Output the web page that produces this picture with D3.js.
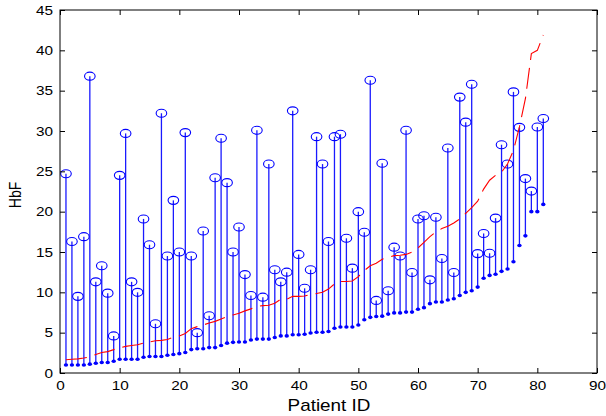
<!DOCTYPE html>
<html>
<head>
<meta charset="utf-8">
<script src="https://cdn.jsdelivr.net/npm/d3@7"></script>
<style>
body { margin:0; background:#fff; }
svg { display:block; font-family:"Liberation Sans", Arial, sans-serif; }
</style>
</head>
<body>
<script>
// HbF per patient: lower value (dot), upper value (circle), and the red dashed curve
var hbfLow = [1.0,1.0,1.0,1.0,1.1,1.2,1.3,1.3,1.45,1.7,
	1.7,1.7,1.7,1.95,2.05,2.05,2.05,2.2,2.3,2.4,
	2.55,2.9,3.0,3.0,3.15,3.15,3.4,3.7,3.8,3.85,
	3.85,4.1,4.2,4.2,4.2,4.4,4.6,4.6,4.75,4.75,
	4.8,4.95,5.05,5.05,5.15,5.55,5.7,5.7,5.7,5.95,
	6.6,6.9,7.0,7.05,7.3,7.45,7.45,7.55,7.55,7.9,
	8.1,8.6,8.8,8.8,9.05,9.2,9.6,10.0,10.2,10.65,
	11.75,12.1,12.25,12.6,12.9,13.8,15.8,17.0,20.0,20.0,
	20.9];
var hbfHigh = [24.7,16.3,9.5,16.9,36.8,11.3,13.3,9.9,4.6,24.5,
	29.7,11.3,10.0,19.1,15.9,6.1,32.2,14.5,21.4,15.0,
	29.8,14.5,5.0,17.6,7.1,24.2,29.1,23.6,15.0,18.1,
	12.2,9.6,30.1,9.4,25.9,12.8,11.3,12.5,32.5,14.7,
	10.5,12.8,29.3,25.9,16.3,29.3,29.6,16.7,13.0,20.0,
	17.45,36.3,9.0,26.0,10.2,15.6,14.5,30.1,12.45,19.1,
	19.5,11.55,19.3,14.2,27.9,12.45,34.2,31.1,35.8,14.8,
	17.3,14.85,19.2,28.3,25.9,34.85,30.45,24.1,22.55,30.5,
	31.55];
var hbfTrend = [1.65,1.7,1.75,1.85,2.0,2.3,2.55,2.65,2.9,3.1,
	3.3,3.4,3.5,3.7,3.85,4.0,4.05,4.15,4.45,4.6,
	4.9,5.5,5.75,5.95,6.2,6.4,6.7,7.0,7.2,7.4,
	7.7,7.95,8.25,8.35,8.4,8.65,9.15,9.15,9.5,9.5,
	9.55,9.75,9.85,10.0,10.4,11.05,11.35,11.35,11.4,11.95,
	12.7,13.3,13.6,14.1,14.35,14.55,14.6,14.7,15.0,15.5,
	16.2,16.9,17.5,17.9,18.2,18.6,19.1,19.8,20.5,21.3,
	22.8,23.9,24.5,24.9,25.9,27.6,30.5,34.0,39.6,40.0,
	41.9];
var xTicks = [0,10,20,30,40,50,60,70,80,90];
var yTicks = [0,5,10,15,20,25,30,35,40,45];

var width = 606, height = 416;
var margin = {top:10, right:9, bottom:43, left:60};
var stretch = 1.18;

var svg = d3.select("body").append("svg")
	.attr("width", width)
	.attr("height", height);

svg.append("rect").attr("width", width).attr("height", height).attr("fill", "#fff");

var x = d3.scaleLinear().domain([0,90]).range([margin.left, width-margin.right]);
var y = d3.scaleLinear().domain([0,45]).range([height-margin.bottom, margin.top]);

var pts = hbfLow.map(function(d,i) {
	return {id: i+1, low: d, high: hbfHigh[i], trend: hbfTrend[i]};
});

// stems
svg.append("g").selectAll("line")
	.data(pts).enter().append("line")
		.attr("x1", function(d) { return x(d.id); })
		.attr("x2", function(d) { return x(d.id); })
		.attr("y1", function(d) { return y(d.low); })
		.attr("y2", function(d) { return y(d.high); })
		.attr("stroke", "#1a1aff")
		.attr("stroke-width", 1.3);

// lower dots
svg.append("g").selectAll("ellipse")
	.data(pts).enter().append("ellipse")
		.attr("cx", function(d) { return x(d.id); })
		.attr("cy", function(d) { return y(d.low); })
		.attr("rx", 2.2)
		.attr("ry", 1.8)
		.attr("fill", "#0000ff");

// upper circles
svg.append("g").selectAll("ellipse")
	.data(pts).enter().append("ellipse")
		.attr("cx", function(d) { return x(d.id); })
		.attr("cy", function(d) { return y(d.high); })
		.attr("rx", 5.3)
		.attr("ry", 4)
		.attr("fill", "none")
		.attr("stroke", "#0000ff")
		.attr("stroke-width", 1.1);

// red dashed curve
svg.append("path")
	.datum(pts)
	.attr("d", d3.line()
		.x(function(d) { return x(d.id); })
		.y(function(d) { return y(d.trend); }))
	.attr("fill", "none")
	.attr("stroke", "#ff0000")
	.attr("stroke-width", 1.1)
	.attr("stroke-dasharray", "21,8");

// axes, ticks pointing inward on all four sides
var xb = svg.append("g")
	.attr("transform", "translate(0,"+(height-margin.bottom)+")")
	.call(d3.axisBottom(x).tickValues(xTicks).tickSizeInner(-5).tickSizeOuter(0).tickPadding(8));
var yl = svg.append("g")
	.attr("transform", "translate("+margin.left+",0)")
	.call(d3.axisLeft(y).tickValues(yTicks).tickSizeInner(-5).tickSizeOuter(0).tickPadding(7));
svg.append("g")
	.attr("transform", "translate(0,"+margin.top+")")
	.call(d3.axisTop(x).tickValues(xTicks).tickSizeInner(-5).tickSizeOuter(0).tickFormat(""));
svg.append("g")
	.attr("transform", "translate("+(width-margin.right)+",0)")
	.call(d3.axisRight(y).tickValues(yTicks).tickSizeInner(-5).tickSizeOuter(0).tickFormat(""));

svg.selectAll(".domain").remove();
svg.selectAll(".tick line").attr("stroke", "#000");
svg.selectAll(".tick text")
	.attr("fill", "#000")
	.attr("font-size", 13)
	.attr("font-family", "Liberation Sans, Arial, sans-serif");
xb.selectAll(".tick text").attr("transform", "scale("+stretch+",1)");
yl.selectAll(".tick text")
	.attr("x", -7/stretch)
	.attr("transform", "scale("+stretch+",1)");

svg.append("rect")
	.attr("x", margin.left)
	.attr("y", margin.top)
	.attr("width", width-margin.left-margin.right)
	.attr("height", height-margin.top-margin.bottom)
	.attr("fill", "none")
	.attr("stroke", "#000")
	.attr("stroke-width", 1);

svg.append("text")
	.attr("transform", "translate(329,411) scale("+stretch+",1)")
	.attr("text-anchor", "middle")
	.attr("font-size", 16)
	.attr("fill", "#000")
	.text("Patient ID");

svg.append("text")
	.attr("transform", "translate(21,195) scale("+stretch+",1) rotate(-90)")
	.attr("text-anchor", "middle")
	.attr("font-size", 14)
	.attr("fill", "#000")
	.text("HbF");
</script>
</body>
</html>
